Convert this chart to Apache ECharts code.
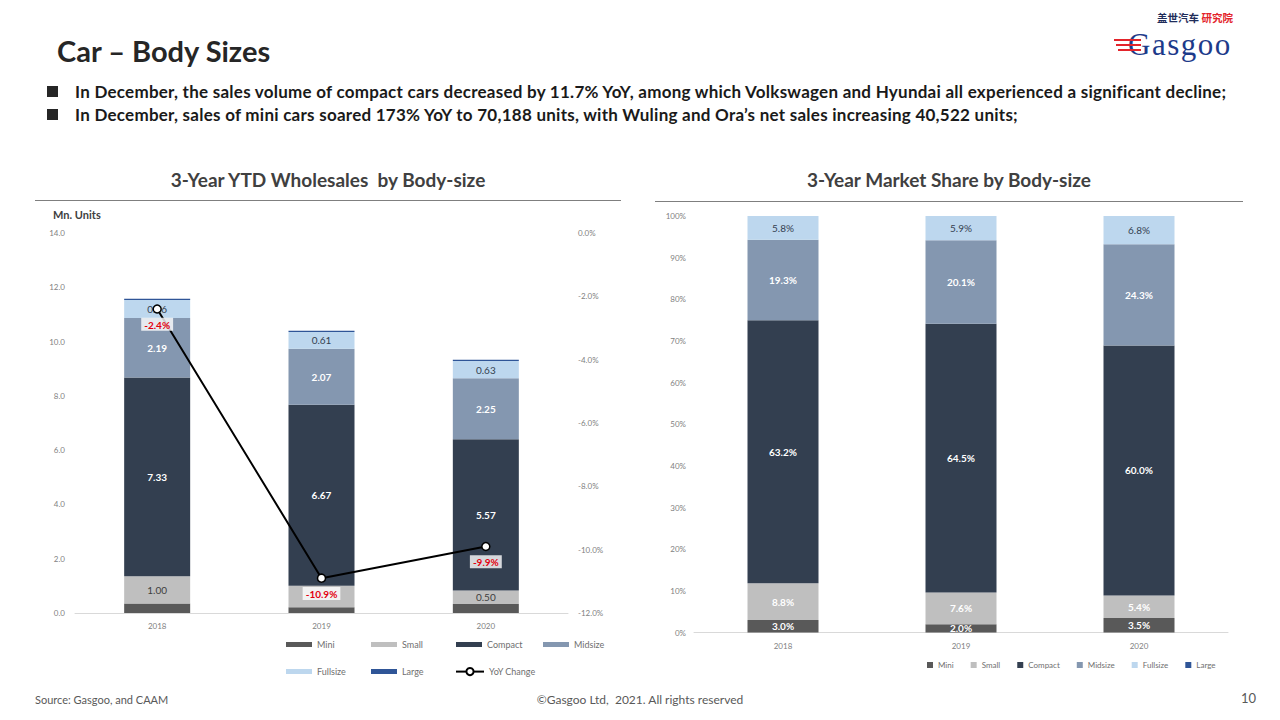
<!DOCTYPE html>
<html>
<head>
<meta charset="utf-8">
<script src="https://cdn.jsdelivr.net/npm/echarts@6/dist/echarts.min.js"></script>
<style>
  html,body{margin:0;padding:0;background:#fff;}
  body{width:1280px;height:720px;position:relative;overflow:hidden;font-family:Lato,"Open Sans","Noto Sans",sans-serif;}
  #chart{position:absolute;left:0;top:0;width:1280px;height:720px;}
  .t{position:absolute;white-space:nowrap;line-height:1;}
  .hl{position:absolute;height:0;border-top:1.5px solid #7f7f7f;}
  .bul{position:absolute;width:11px;height:11px;background:#262626;}
</style>
</head>
<body>
<div id="chart"></div>

<div class="t" style="left:57px;top:36px;font-size:29px;font-weight:700;color:#262626;">Car – Body Sizes</div>

<div class="bul" style="left:47px;top:86px;"></div>
<div class="t" style="left:75px;top:83px;font-size:17px;letter-spacing:0.25px;font-weight:700;color:#1a1a1a;">In December, the sales volume of compact cars decreased by 11.7% YoY, among which Volkswagen and Hyundai all experienced a significant decline;</div>
<div class="bul" style="left:47px;top:109px;"></div>
<div class="t" style="left:75px;top:106px;font-size:17px;letter-spacing:0.25px;font-weight:700;color:#1a1a1a;">In December, sales of mini cars soared 173% YoY to 70,188 units, with Wuling and Ora’s net sales increasing 40,522 units;</div>

<div class="t" style="left:35px;width:586px;text-align:center;top:170px;font-size:19px;font-weight:700;color:#404040;">3-Year YTD Wholesales&nbsp; by Body-size</div>
<div class="hl" style="left:35px;width:586px;top:200px;"></div>
<div class="t" style="left:655px;width:588px;text-align:center;top:170px;font-size:19px;font-weight:700;color:#404040;">3-Year Market Share by Body-size</div>
<div class="hl" style="left:655px;width:588px;top:201px;"></div>

<div class="t" style="left:53px;top:209px;font-size:11px;font-weight:700;color:#404040;">Mn. Units</div>

<div class="t" style="left:35px;top:694px;font-size:11px;color:#595959;">Source: Gasgoo, and CAAM</div>
<div class="t" style="left:440px;width:400px;text-align:center;top:694px;font-size:12px;color:#595959;">©Gasgoo Ltd,&nbsp; 2021. All rights reserved</div>
<div class="t" style="left:1241px;top:692px;font-size:13px;color:#595959;">10</div>

<!-- logo -->
<div class="t" style="left:1157px;top:10px;line-height:15px;font-size:10.5px;font-weight:700;color:#1f2d5a;font-family:'Noto Sans CJK SC',sans-serif;">盖世汽车 <span style="color:#e3242b;">研究院</span></div>
<div class="t" style="left:1128px;top:28px;line-height:33px;font-size:31px;color:#1d3a8a;font-family:'Liberation Serif','DejaVu Serif',serif;letter-spacing:1.5px;">Gasgoo</div>
<div style="position:absolute;left:1114px;top:39px;width:27px;height:2px;background:#e3242b;"></div>
<div style="position:absolute;left:1116px;top:44px;width:25px;height:2px;background:#e3242b;"></div>
<div style="position:absolute;left:1118px;top:49px;width:23px;height:2px;background:#e3242b;"></div>

<script>
// ---- data ----
const years = ['2018', '2019', '2020'];
const seriesNames = ['Mini', 'Small', 'Compact', 'Midsize', 'Fullsize', 'Large'];
const miniUnits = [0.35, 0.21, 0.33];
const smallUnits = [1.00, 0.79, 0.50];
const compactUnits = [7.33, 6.67, 5.57];
const midsizeUnits = [2.19, 2.07, 2.25];
const fullsizeUnits = [0.66, 0.61, 0.63];
const largeUnits = [0.05, 0.05, 0.05];
const yoyChange = [-2.4, -10.9, -9.9];

const miniShare = [3.0, 2.0, 3.5];
const smallShare = [8.8, 7.6, 5.4];
const compactShare = [63.2, 64.5, 60.0];
const midsizeShare = [19.3, 20.1, 24.3];
const fullsizeShare = [5.8, 5.9, 6.8];
const largeShare = [0, 0, 0];

const unitsTicks = {min: 0, max: 14, interval: 2};
const yoyTicks = {min: -12, max: 0, interval: 2};
const shareTicks = {min: 0, max: 100, interval: 10};

// ---- style ----
const colors = {
  Mini: '#595959', Small: '#bfbfbf', Compact: '#333f50',
  Midsize: '#8497b0', Fullsize: '#bdd7ee', Large: '#2f5597'
};
const FONT = 'Lato, "Open Sans", sans-serif';
const axisLabel = {color: '#7f7f7f', fontSize: 8, fontFamily: FONT};

function unitLabel(show, color, bold) {
  return {show: show, position: 'inside', color: color, fontSize: 10, fontWeight: bold ? 'bold' : 'normal',
    fontFamily: FONT, formatter: p => p.value.toFixed(2)};
}
function shareLabel(show, color, bold) {
  return {show: show, position: 'inside', color: color, fontSize: 10, fontWeight: bold ? 'bold' : 'normal',
    fontFamily: FONT, formatter: p => p.value.toFixed(1) + '%'};
}

const unitsData = [miniUnits, smallUnits, compactUnits, midsizeUnits, fullsizeUnits, largeUnits];
const shareData = [miniShare, smallShare, compactShare, midsizeShare, fullsizeShare, largeShare];
const unitLabels = [
  unitLabel(false), unitLabel(true, '#404040', false), unitLabel(true, '#ffffff', true),
  unitLabel(true, '#ffffff', true), unitLabel(true, '#333f50', false), unitLabel(false)
];
const shareLabels = [
  shareLabel(true, '#ffffff', true), shareLabel(true, '#ffffff', true), shareLabel(true, '#ffffff', true),
  shareLabel(true, '#ffffff', true), shareLabel(true, '#333f50', false), shareLabel(false)
];

const series = [];
seriesNames.forEach((n, k) => {
  series.push({
    name: n, type: 'bar', stack: 'units', xAxisIndex: 0, yAxisIndex: 0, barWidth: 66,
    itemStyle: {color: colors[n]},
    label: unitLabels[k],
    // the 2019 small-car label sits under the YoY label in the reference
    data: unitsData[k].map((v, i) => (n === 'Small' && i === 1) ? {value: v, label: {show: false}} : v)
  });
});
series.push({
  name: 'YoY Change', type: 'line', xAxisIndex: 0, yAxisIndex: 1, z: 10,
  data: yoyChange, symbol: 'circle', symbolSize: 8,
  lineStyle: {color: '#000', width: 2},
  itemStyle: {color: '#fff', borderColor: '#000', borderWidth: 1.5},
  label: {show: true, position: 'bottom', distance: 4, color: '#e3000f', fontWeight: 'bold', fontSize: 10,
    fontFamily: FONT, backgroundColor: 'rgba(255,255,255,0.8)', padding: [2, 3, 1, 3],
    formatter: p => p.value.toFixed(1) + '%'}
});
seriesNames.forEach((n, k) => {
  series.push({
    name: n, type: 'bar', stack: 'share', xAxisIndex: 1, yAxisIndex: 2, barWidth: 71,
    itemStyle: {color: colors[n]},
    label: shareLabels[k],
    data: shareData[k]
  });
});

const legendText = {color: '#6f6f6f', fontSize: 9, fontFamily: FONT};
const leftLegendPos = [
  ['Mini', 286, 640], ['Small', 371, 640], ['Compact', 456, 640], ['Midsize', 543, 640],
  ['Fullsize', 286, 667], ['Large', 371, 667]
];
const legends = leftLegendPos.map(([n, x, y]) => ({
  data: [n], left: x, top: y, padding: 0, icon: 'rect', itemWidth: 26, itemHeight: 5, itemGap: 0,
  textStyle: legendText, selectedMode: false
}));
legends.push({
  data: ['YoY Change'], left: 455, top: 667, padding: 0, itemWidth: 28, itemHeight: 9,
  textStyle: legendText, selectedMode: false
});
legends.push({
  data: seriesNames, left: 927, top: 661, padding: 0, icon: 'rect', itemWidth: 6, itemHeight: 6, itemGap: 17,
  textStyle: {color: '#6f6f6f', fontSize: 8, fontFamily: FONT}, selectedMode: false
});

const chart = echarts.init(document.getElementById('chart'), null, {renderer: 'svg'});
chart.setOption({
  animation: false,
  textStyle: {fontFamily: FONT},
  legend: legends,
  grid: [
    {left: 75, right: 712, top: 233, bottom: 107},
    {left: 694, right: 52, top: 216, bottom: 87.5}
  ],
  xAxis: [
    {type: 'category', gridIndex: 0, data: years, axisTick: {show: false},
      axisLine: {lineStyle: {color: '#d9d9d9'}}, axisLabel: Object.assign({margin: 9}, axisLabel)},
    {type: 'category', gridIndex: 1, data: years, axisTick: {show: false},
      axisLine: {lineStyle: {color: '#d9d9d9'}}, axisLabel: Object.assign({margin: 9}, axisLabel)}
  ],
  yAxis: [
    Object.assign({type: 'value', gridIndex: 0, splitLine: {show: false}, axisLine: {show: false},
      axisTick: {show: false}, axisLabel: Object.assign({margin: 10, formatter: v => v.toFixed(1)}, axisLabel)}, unitsTicks),
    Object.assign({type: 'value', gridIndex: 0, position: 'right', splitLine: {show: false}, axisLine: {show: false},
      axisTick: {show: false}, axisLabel: Object.assign({margin: 10, formatter: v => v.toFixed(1) + '%'}, axisLabel)}, yoyTicks),
    Object.assign({type: 'value', gridIndex: 1, splitLine: {show: false}, axisLine: {show: false},
      axisTick: {show: false}, axisLabel: Object.assign({margin: 8, formatter: v => v + '%'}, axisLabel)}, shareTicks)
  ],
  series: series
});
</script>
</body>
</html>
